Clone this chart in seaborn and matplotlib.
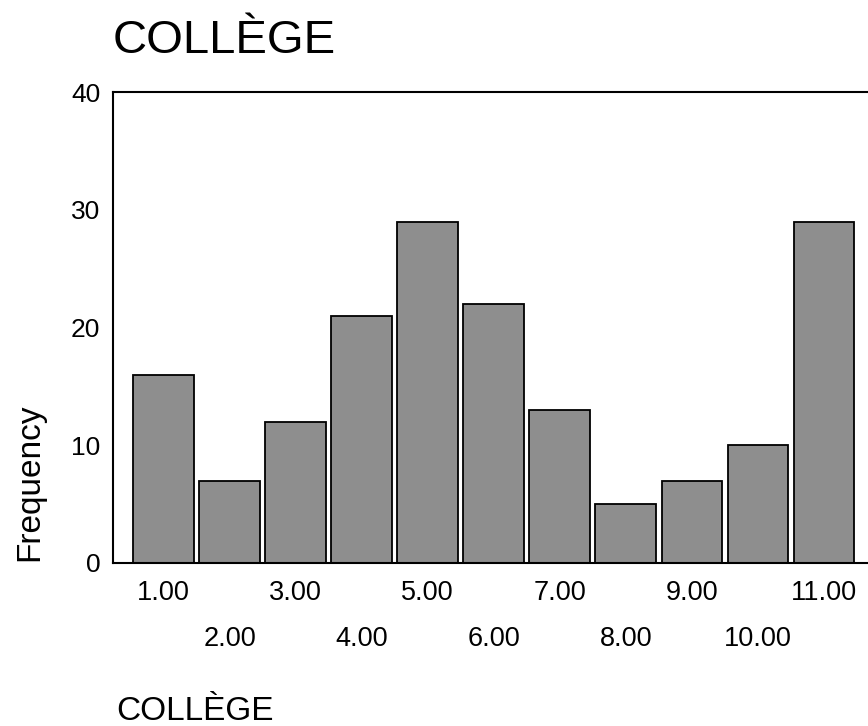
import matplotlib
matplotlib.use("Agg")
import matplotlib.pyplot as plt
import seaborn as sns
import pandas as pd

# Data
college_values = [1, 2, 3, 4, 5, 6, 7, 8, 9, 10, 11]
frequencies = [16, 7, 12, 21, 29, 22, 13, 5, 7, 10, 29]
tick_labels = ["1.00", "2.00", "3.00", "4.00", "5.00", "6.00",
               "7.00", "8.00", "9.00", "10.00", "11.00"]
y_ticks = [0, 10, 20, 30, 40]

sns.set_style("white")
plt.rcParams["font.family"] = ["Liberation Sans", "DejaVu Sans"]
plt.rcParams["text.color"] = "black"
plt.rcParams["axes.labelcolor"] = "black"
plt.rcParams["xtick.color"] = "black"
plt.rcParams["ytick.color"] = "black"

df = pd.DataFrame({"COLLÈGE": college_values, "Frequency": frequencies})

fig = plt.figure(figsize=(8.68, 7.26), dpi=100)
ax = fig.add_axes([113 / 868, 1 - 563 / 726, 755 / 868, 471 / 726])

sns.barplot(data=df, x="COLLÈGE", y="Frequency", native_scale=True,
            width=0.92, color="#8e8e8e", saturation=1,
            edgecolor="black", linewidth=1.3, ax=ax)

ax.set_xlim(0.235, 11.666)
ax.set_ylim(0, 40)
ax.set_yticks(y_ticks)
ax.set_yticklabels([str(v) for v in y_ticks], fontsize=19)

odd_pos = [v for v in college_values if v % 2 == 1]
even_pos = [v for v in college_values if v % 2 == 0]
ax.set_xticks(odd_pos)
ax.set_xticklabels([tick_labels[v - 1] for v in odd_pos], fontsize=19.5)
ax.set_xticks(even_pos, minor=True)
ax.set_xticklabels([tick_labels[v - 1] for v in even_pos], minor=True, fontsize=19.5)

ax.tick_params(axis="x", which="major", direction="out", length=3, width=3,
               pad=9, colors="black")
ax.tick_params(axis="x", which="minor", direction="out", length=3, width=3,
               pad=42, colors="black")
ax.tick_params(axis="y", direction="out", length=3, width=3, pad=6, colors="black")

for side in ["left", "bottom", "top"]:
    ax.spines[side].set_visible(True)
    ax.spines[side].set_color("black")
    ax.spines[side].set_linewidth(1.5)
ax.spines["right"].set_visible(False)

ax.set_ylabel("Frequency", fontsize=24, color="black")
ax.yaxis.label.set_verticalalignment("center")
ax.yaxis.set_label_coords(-0.11, 0.172)

ax.set_xlabel("COLLÈGE", fontsize=24, color="black")
ax.xaxis.label.set_horizontalalignment("left")
ax.xaxis.label.set_verticalalignment("baseline")
ax.xaxis.set_label_coords(0.004, -0.334)

ax.set_title("COLLÈGE", loc="left", fontsize=34, pad=28, color="black")

fig.savefig("out.png", dpi=100)
